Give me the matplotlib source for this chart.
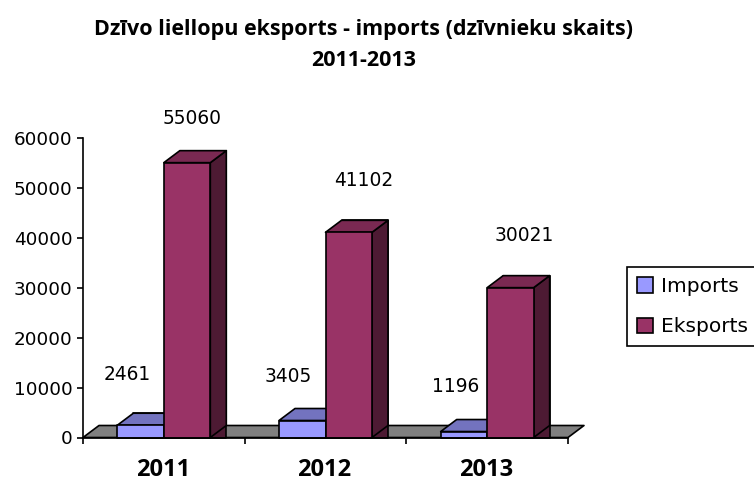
import matplotlib
matplotlib.use("Agg")
import matplotlib.pyplot as plt
from matplotlib.patches import Polygon, Patch

years = ["2011", "2012", "2013"]
imports = [2461, 3405, 1196]
eksports = [55060, 41102, 30021]
series_names = ["Imports", "Eksports"]
title = "Dzīvo liellopu eksports - imports (dzīvnieku skaits)\n2011-2013"

W, H = 754, 482
fig = plt.figure(figsize=(W / 100, H / 100), dpi=100)
L, R, B, T = 83, 568, 437.5, 138
ax = fig.add_axes([L / W, 1 - B / H, (R - L) / W, (B - T) / H])
ax.set_xlim(0, 3)
ax.set_ylim(0, 60000)
ax.patch.set_visible(False)

DX = 16 / ((R - L) / 3)
DY = 12 / (B - T) * 60000
BW = 0.2875
LW = 1.2
K = "black"

def poly(pts, color, z):
    ax.add_patch(Polygon(pts, closed=True, facecolor=color, edgecolor=K, lw=LW,
                         joinstyle="round", zorder=z, clip_on=False))

def box(x0, v, front, top, side, z):
    x1 = x0 + BW
    poly([(x0 + DX, 0), (x1 + DX, 0), (x1 + DX, v + DY), (x0 + DX, v + DY)], side, z)
    poly([(x1, 0), (x1 + DX, DY), (x1 + DX, v + DY), (x1, v)], side, z + 0.1)
    poly([(x0, v), (x1, v), (x1 + DX, v + DY), (x0 + DX, v + DY)], top, z + 0.2)
    poly([(x0, 0), (x1, 0), (x1, v), (x0, v)], front, z + 0.3)

poly([(0, 0), (3, 0), (3 + DX, DY), (DX, DY)], "#808080", 1)

label_offsets_imp = [(-13, 51), (-14, 44), (-8, 45)]
label_offsets_eks = [(5, 44), (15, 52), (14, 52)]

for i, (a, b) in enumerate(zip(imports, eksports)):
    x_i = i + 0.5 - BW
    x_e = i + 0.5
    box(x_i, a, "#9999FF", "#7373BF", "#4D4D80", 2 + i)
    box(x_e, b, "#993366", "#7A2952", "#4D1A33", 2.5 + i)
    for x, v, off in ((x_i, a, label_offsets_imp[i]), (x_e, b, label_offsets_eks[i])):
        ax.annotate(str(v), (x + BW / 2, v), xytext=off, textcoords="offset pixels",
                    ha="center", va="center", fontsize=13.4, family="DejaVu Sans",
                    color="black", zorder=20)

for s in ("top", "right"):
    ax.spines[s].set_visible(False)
for s in ("left", "bottom"):
    ax.spines[s].set_linewidth(LW)
    ax.spines[s].set_zorder(10)
ax.set_yticks(range(0, 60001, 10000))
ax.tick_params(axis="y", length=4.5, width=LW, labelsize=13.2, pad=3)
ax.set_xticks([0, 1, 2, 3])
ax.set_xticklabels([])
ax.tick_params(axis="x", length=4, width=LW)
for x, y in zip((0.5, 1.5, 2.5), years):
    ax.annotate(y, (x, 0), xytext=(-1, -32.5), textcoords="offset pixels", ha="center",
                va="center", fontsize=17, fontweight="bold", family="Open Sans")

fig.text(364 / W, 1 - 45 / H, title, ha="center", va="center", fontsize=15.5,
         fontweight="bold", family="Open Sans", linespacing=1.68)

handles = [Patch(facecolor="#9999FF", edgecolor=K, lw=LW, label=series_names[0]),
           Patch(facecolor="#993366", edgecolor=K, lw=LW, label=series_names[1])]
leg = fig.legend(handles=handles, loc="upper left", bbox_to_anchor=(627 / W, 1 - 267 / H),
                 borderaxespad=0, frameon=True, fancybox=False, edgecolor=K, framealpha=1,
                 prop={"family": "DejaVu Sans", "size": 14.5}, handlelength=0.78,
                 handleheight=0.78, handletextpad=0.4, labelspacing=1.05, borderpad=0.5)
leg.get_frame().set_linewidth(LW)

fig.savefig("out.png", dpi=100)
